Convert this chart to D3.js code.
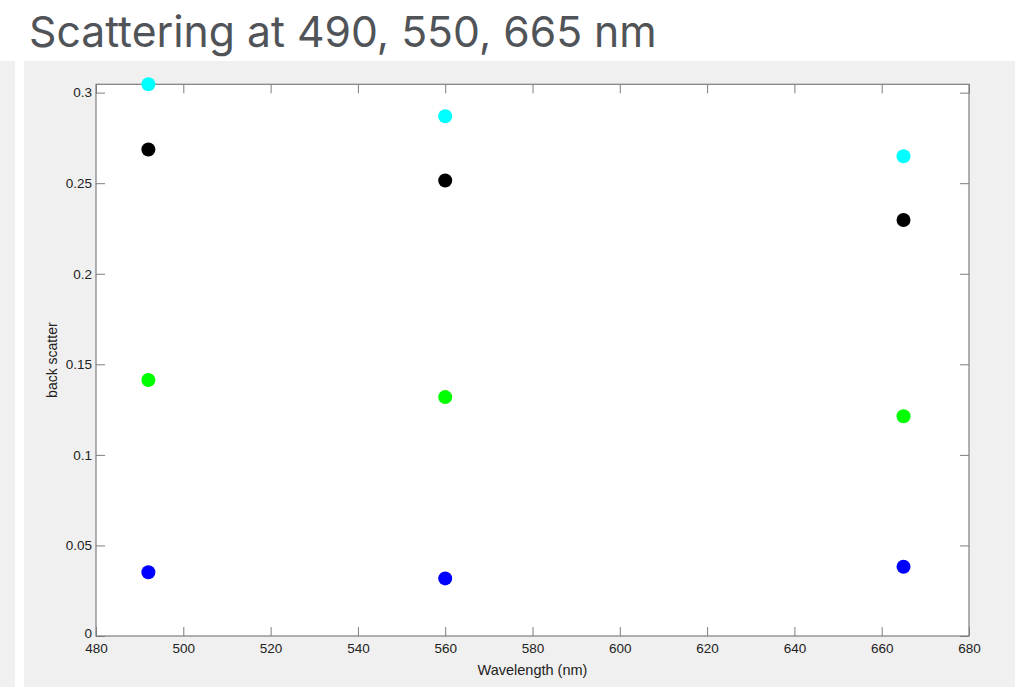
<!DOCTYPE html>
<html>
<head>
<meta charset="utf-8">
<script src="https://cdn.jsdelivr.net/npm/d3@7"></script>
<style>
body { margin: 0; background: #fff; }
svg { display: block; }
</style>
</head>
<body>
<svg id="chart" width="1015" height="687"></svg>
<script>
// wavelengths of the three measurements (nm)
var wavelengths = [492, 560, 665];

// back scatter values, one series per colour
var serieCyan  = [0.3046, 0.2870, 0.2649];
var serieNoir  = [0.2686, 0.2515, 0.2297];
var serieVert  = [0.1413, 0.1319, 0.1213];
var serieBleu  = [0.0352, 0.0318, 0.0382];

var xTicks = [480, 500, 520, 540, 560, 580, 600, 620, 640, 660, 680];
var yTicks = [0, 0.05, 0.1, 0.15, 0.2, 0.25, 0.3];
var yTickLabels = ["0", "0.05", "0.1", "0.15", "0.2", "0.25", "0.3"];

var series = [
	{ valeurs: serieCyan, couleur: "#00ffff" },
	{ valeurs: serieNoir, couleur: "#000000" },
	{ valeurs: serieVert, couleur: "#00ff00" },
	{ valeurs: serieBleu, couleur: "#0000ff" }
];

var svg = d3.select("#chart");
var W = 1015, H = 687;
var MARGINS = { top: 84.3, right: 46, bottom: 51, left: 96 };

// fonds
svg.append("rect").attr("x", 0).attr("y", 61).attr("width", 15).attr("height", H - 61).attr("fill", "#f0f0f0");
svg.append("rect").attr("x", 24).attr("y", 61).attr("width", W - 24).attr("height", H - 61).attr("fill", "#f0f0f0");

// titre
var titre = svg.append("text")
	.attr("x", 29)
	.attr("y", 47)
	.attr("font-family", "Inter, 'Noto Sans', sans-serif")
	.attr("font-size", 40)
	.attr("fill", "#505458")
	.text("Scattering at 490, 550, 665 nm");
var lg = titre.node().getComputedTextLength();
titre.attr("font-size", 40 * 628 / lg);

var xScale = d3.scaleLinear().domain([480, 680]).range([MARGINS.left, W - MARGINS.right]);
var yMax = d3.max(serieCyan);
var yScale = d3.scaleLinear().domain([0, yMax]).range([H - MARGINS.bottom, MARGINS.top]);

// zone blanche
svg.append("rect")
	.attr("x", xScale(480)).attr("y", yScale(yMax))
	.attr("width", xScale(680) - xScale(480))
	.attr("height", yScale(0) - yScale(yMax))
	.attr("fill", "#ffffff");

var fontAxes = "'Liberation Sans', Arial, Helvetica, sans-serif";
var couleurAxe = "#7d7d7d";

function styler(g, labels) {
	g.select(".domain").remove();
	g.attr("font-size", 13.5).attr("font-family", fontAxes);
	g.selectAll(".tick line").attr("stroke", couleurAxe).attr("stroke-width", 1);
	g.selectAll(".tick text").attr("fill", "#222222");
	if (!labels) g.selectAll(".tick text").remove();
}

var xAxis = d3.axisBottom(xScale).tickValues(xTicks).tickFormat(d3.format("d")).tickSize(-9).tickPadding(7);
var xAxisTop = d3.axisTop(xScale).tickValues(xTicks).tickSize(-9);
var yAxis = d3.axisLeft(yScale).tickValues(yTicks).tickFormat(function(d, i){ return yTickLabels[i]; }).tickSize(-9).tickPadding(4);
var yAxisRight = d3.axisRight(yScale).tickValues(yTicks).tickSize(-9);

svg.append("g").attr("transform", "translate(0," + yScale(0) + ")").call(xAxis).call(styler, true);
svg.append("g").attr("transform", "translate(0," + yScale(yMax) + ")").call(xAxisTop).call(styler, false);
var gy = svg.append("g").attr("transform", "translate(" + xScale(480) + ",0)").call(yAxis).call(styler, true);
// le "0" est legerement remonte pour ne pas toucher le "480"
gy.selectAll(".tick text").filter(function(d){ return d === 0; }).attr("dy", "0.12em");

svg.append("g").attr("transform", "translate(" + xScale(680) + ",0)").call(yAxisRight).call(styler, false);

// cadre
svg.append("rect")
	.attr("x", xScale(480)).attr("y", yScale(yMax))
	.attr("width", xScale(680) - xScale(480))
	.attr("height", yScale(0) - yScale(yMax))
	.attr("fill", "none")
	.attr("stroke", couleurAxe)
	.attr("stroke-width", 1.2);

// points
series.forEach(function(s){
	svg.append("g").selectAll("circle")
		.data(s.valeurs)
		.enter().append("circle")
		.attr("cx", function(d, i){ return xScale(wavelengths[i]); })
		.attr("cy", function(d){ return yScale(d); })
		.attr("r", 7)
		.attr("fill", s.couleur);
});

// titres des axes
svg.append("text")
	.attr("x", (xScale(480) + xScale(680)) / 2)
	.attr("y", 675)
	.attr("text-anchor", "middle")
	.attr("font-family", fontAxes)
	.attr("font-size", 14.5)
	.attr("fill", "#222222")
	.text("Wavelength (nm)");

svg.append("text")
	.attr("transform", "translate(57," + ((yScale(0) + yScale(yMax)) / 2) + ") rotate(-90)")
	.attr("text-anchor", "middle")
	.attr("font-family", fontAxes)
	.attr("font-size", 14)
	.attr("fill", "#222222")
	.text("back scatter");
</script>
</body>
</html>
